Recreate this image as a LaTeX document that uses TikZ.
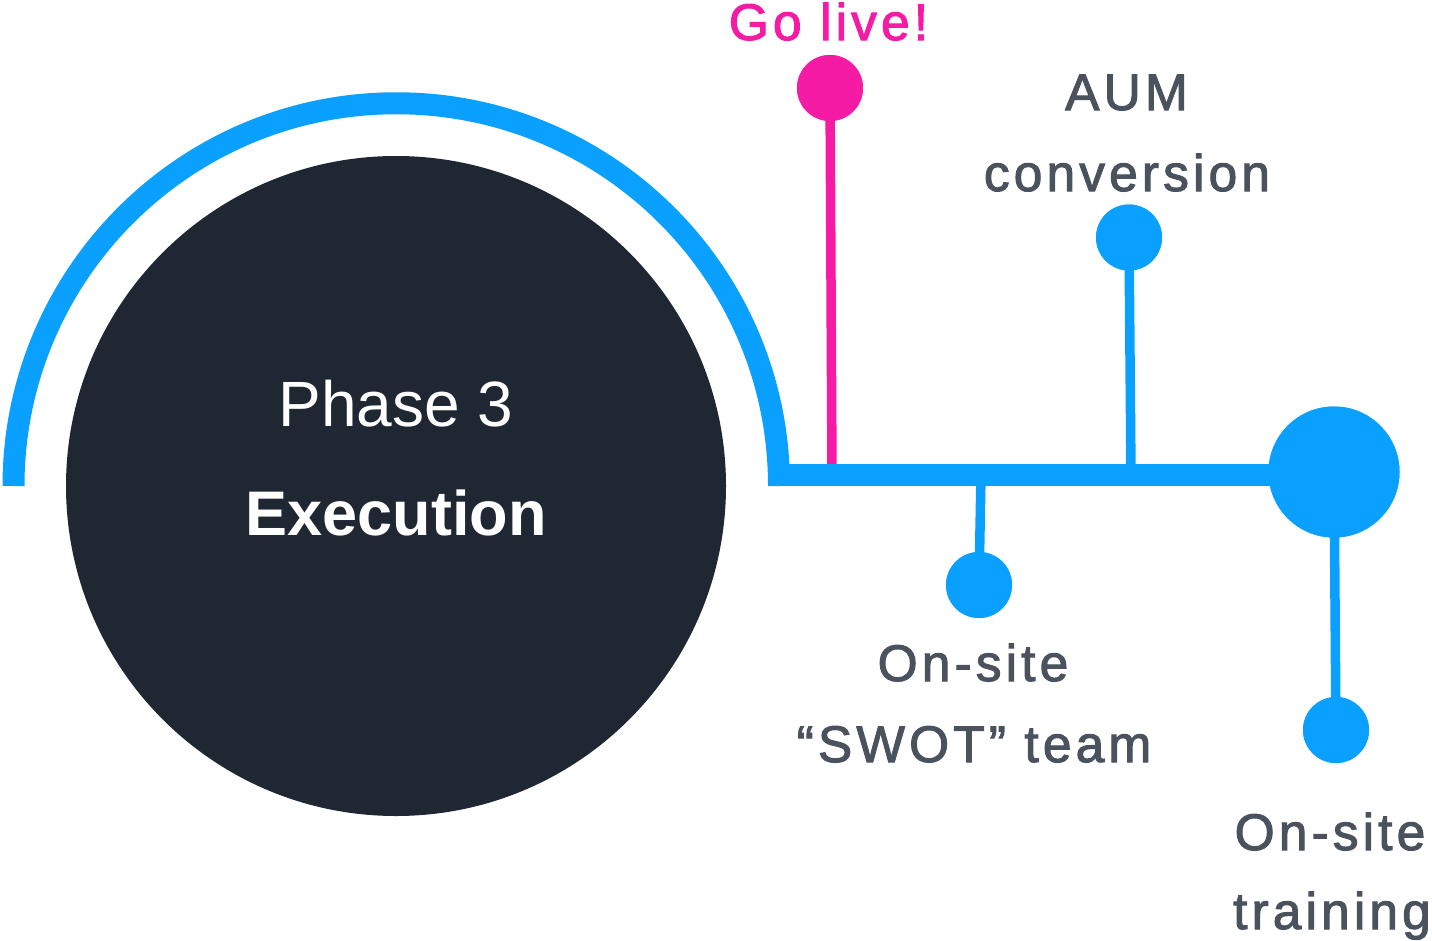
\documentclass[tikz,border=0pt]{standalone}
\usepackage{fontspec}
\setmainfont{Liberation Sans}
\newfontfamily\lblfont[LetterSpace=8,FakeBold=2]{Liberation Sans}
\newfontfamily\phasefont{Liberation Sans}
\definecolor{cblue}{RGB}{10,160,255}
\definecolor{cpink}{RGB}{245,27,165}
\definecolor{cnavy}{RGB}{31,39,51}
\definecolor{cgray}{RGB}{74,82,94}
\begin{document}
\begin{tikzpicture}[x=1pt,y=-1pt,
  dot/.style={circle,fill=cblue,inner sep=0pt,minimum size=66pt},
  pinkdot/.style={dot,fill=cpink},
  hubdot/.style={dot,minimum size=131pt},
  stem/.style={draw=cblue,line width=9.5pt},
  pinkstem/.style={stem,draw=cpink},
  label/.style={text=cgray,font=\lblfont\fontsize{51.5}{60}\selectfont,anchor=base,inner sep=0pt},
  pinklabel/.style={label,text=cpink}]
\useasboundingbox (0,0) rectangle (1432,940);
% big dark circle and arc
\node[circle,fill=cnavy,inner sep=0pt,minimum size=660pt] (core) at (396,486) {};
\draw[cblue,line width=22pt] (13.5,486) arc[start angle=180,end angle=0,radius=382.75pt];
\node[text=white,font=\phasefont\fontsize{64}{70}\selectfont,anchor=base,inner sep=0pt] (phase) at (396,426) {Phase 3};
\node[text=white,font=\bfseries\fontsize{63}{70}\selectfont,anchor=base,inner sep=0pt] (exec) at (396,535) {Execution};
% junction points on the timeline
\coordinate (start) at (768,475);
\coordinate (jlive) at (832,475);
\coordinate (jswot) at (981,475);
\coordinate (jaum) at (1131,475);
% circles
\node[hubdot] (hub) at (1334,472) {};
\node[pinkdot] (live) at (830,88) {};
\node[dot] (aum) at (1129,237.5) {};
\node[dot] (swot) at (979,585) {};
\node[dot] (train) at (1336,730) {};
% stems
\draw[pinkstem] (live.center) -- (jlive);
\draw[stem] (aum.center) -- (jaum);
\draw[stem] (jswot) -- (swot.center);
\draw[stem] (hub.center) -- (train.center);
% timeline
\draw[cblue,line width=22pt] (start) -- (start -| hub.center);
% redraw circles on top
\node[hubdot] at (hub) {};
\node[pinkdot] at (live) {};
\node[dot] at (aum) {};
\node[dot] at (swot) {};
\node[dot] at (train) {};
% labels
\node[pinklabel] (tlive) at (828.5,40) {Go live!};
\node[label] (taum1) at (1126.5,110) {AUM};
\node[label] (taum2) at (1127,191) {conversion};
\node[label] (tswot1) at (973,681) {On-site};
\node[label] (tswot2) at (974,762) {“SWOT” team};
\node[label] (ttrain1) at (1330,850) {On-site};
\node[label] (ttrain2) at (1332,929) {training};
\end{tikzpicture}
\end{document}
